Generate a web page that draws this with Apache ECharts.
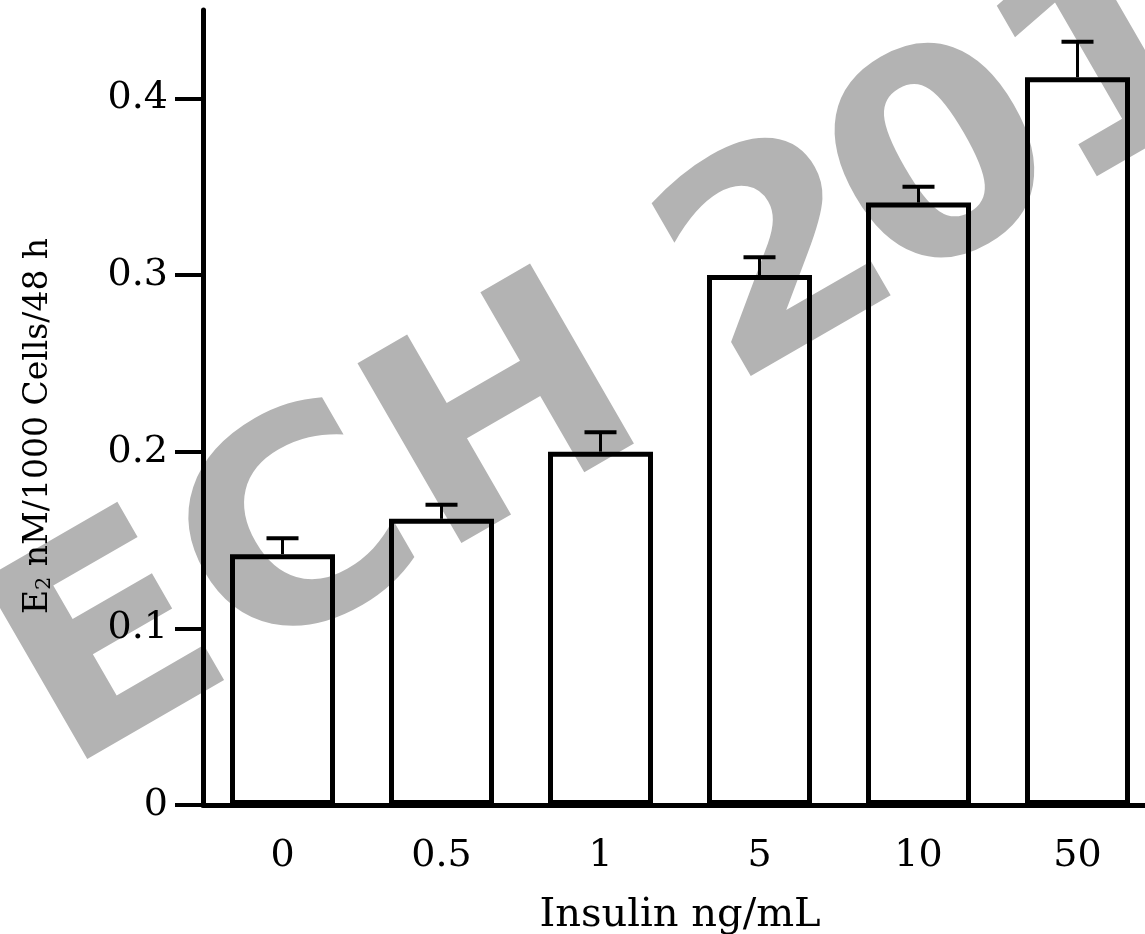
<!DOCTYPE html>
<html lang="en">
<head>
    <meta charset="UTF-8">
    <title>E2 secretion vs insulin</title>
    <style>
        html, body { margin: 0; padding: 0; background: #fff; }
        #chart { width: 1145px; height: 934px; }
    </style>
</head>
<body>
<div id="chart"></div>
<script src="https://cdn.jsdelivr.net/npm/echarts@6/dist/echarts.min.js"></script>
<script>
    // insulin doses (ng/mL) and E2 output
    const categories = ['0', '0.5', '1', '5', '10', '50'];
    const means = [0.142, 0.162, 0.200, 0.300, 0.341, 0.412];
    const errors = [0.009, 0.008, 0.011, 0.010, 0.009, 0.020];
    const yTicks = [0, 0.1, 0.2, 0.3, 0.4];

    const serif = 'DejaVu Serif';

    // watermark glyphs and their offset along the tilted baseline
    const stamp = [['E', 0], ['C', 208], ['H', 432], ['2', 770], ['0', 960], ['1', 1158]];
    const tilt = Math.PI / 6;

    const chart = echarts.init(document.getElementById('chart'));

    // upper error bars only (T shape)
    function renderError(params, api) {
        const i = api.value(0);
        const base = api.coord([i, api.value(1)]);
        const top = api.coord([i, api.value(1) + api.value(2)]);
        const half = 16;
        return {
            type: 'group',
            children: [
                {
                    type: 'line',
                    shape: { x1: base[0], y1: base[1], x2: top[0], y2: top[1] },
                    style: { stroke: '#000', lineWidth: 3 }
                },
                {
                    type: 'line',
                    shape: { x1: top[0] - half, y1: top[1], x2: top[0] + half, y2: top[1] },
                    style: { stroke: '#000', lineWidth: 4 }
                }
            ]
        };
    }

    const watermark = stamp.map(([ch, d]) => ({
        type: 'text',
        z: -1,
        x: 26 + d * Math.cos(tilt),
        y: 709 - d * Math.sin(tilt),
        rotation: tilt,
        scaleX: 1.07,
        style: {
            text: ch,
            fill: '#b3b3b3',
            font: 'bold 285px "DejaVu Sans"',
            textAlign: 'left',
            textVerticalAlign: 'middle'
        }
    }));

    chart.setOption({
        animation: false,
        backgroundColor: '#fff',
        grid: { left: 203, top: 10, width: 954, height: 795, outerBoundsMode: 'none', containLabel: false },
        graphic: watermark.concat([
            {
                type: 'text',
                x: 38,
                y: 426,
                rotation: Math.PI / 2,
                style: {
                    text: 'E{sub|2} nM/1000 Cells/48 h',
                    fill: '#000',
                    font: '33px "DejaVu Serif"',
                    textAlign: 'center',
                    textVerticalAlign: 'middle',
                    rich: {
                        sub: { fontSize: 21, fontFamily: serif, fill: '#000', padding: [14, 0, 0, 0] }
                    }
                }
            }
        ]),
        xAxis: {
            type: 'category',
            data: categories,
            boundaryGap: true,
            name: 'Insulin ng/mL',
            nameLocation: 'middle',
            nameGap: 91,
            nameTextStyle: { fontFamily: serif, fontSize: 40, color: '#000' },
            axisLine: { lineStyle: { color: '#000', width: 5 } },
            axisTick: { show: false },
            axisLabel: { margin: 32, fontFamily: serif, fontSize: 38, color: '#000' }
        },
        yAxis: {
            type: 'value',
            min: 0,
            max: 0.45,
            interval: 0.1,
            splitLine: { show: false },
            axisLine: { show: true, lineStyle: { color: '#000', width: 5 } },
            axisTick: { show: true, length: 28, customValues: yTicks, lineStyle: { color: '#000', width: 4 } },
            axisLabel: { margin: 35, customValues: yTicks, fontFamily: serif, fontSize: 38, color: '#000' }
        },
        series: [
            {
                type: 'bar',
                data: means,
                barWidth: 105,
                itemStyle: { color: 'rgba(0,0,0,0)', borderColor: '#000', borderWidth: 5 }
            },
            {
                type: 'custom',
                renderItem: renderError,
                data: categories.map((c, i) => [i, means[i], errors[i]]),
                z: 3
            }
        ]
    });
</script>
</body>
</html>
